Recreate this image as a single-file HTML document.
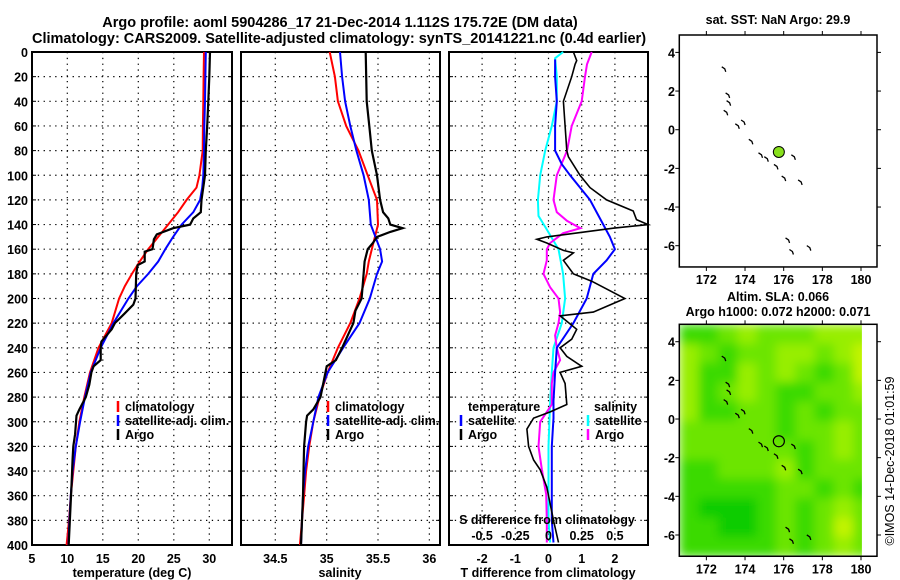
<!DOCTYPE html>
<html><head><meta charset="utf-8">
<style>
body{margin:0;background:#fff;}
svg{display:block;font-family:"Liberation Sans",Arial,sans-serif;font-weight:bold;}
text{fill:#000;}
</style></head>
<body>
<svg id="chart" width="900" height="580" viewBox="0 0 900 580" xmlns="http://www.w3.org/2000/svg">
<defs>
<filter id="smooth" x="0" y="0" width="1" height="1"><feGaussianBlur stdDeviation="5" edgeMode="duplicate"/></filter>
<clipPath id="slaclip"><rect x="679.3" y="324.3" width="182.6" height="232"/></clipPath>
</defs>
<rect width="900" height="580" fill="#fff"/>
<text x="340" y="27" font-size="14.5" text-anchor="middle">Argo profile: aoml 5904286_17 21-Dec-2014 1.112S 175.72E (DM data)</text>
<text x="339" y="43" font-size="14.5" text-anchor="middle">Climatology: CARS2009. Satellite-adjusted climatology: synTS_20141221.nc (0.4d earlier)</text>
<g id="g"></g>
</svg>
<script>
// ---- data ----
const tDepth   = [0,20,40,60,80,100,110,120,130,140,150,160,170,180,190,200,220,240,260,280,300,320,340,360,380,400];
const tClim    = [29.25,29.2,29.15,29.1,29.07,28.6,28.2,26.8,25.6,24.2,22.8,21.4,20.2,19.1,18.1,17.3,16.25,14.4,13.2,12.4,11.7,11.2,10.85,10.5,10.24,9.9];
const tSat     = [29.5,29.45,29.4,29.3,29.25,29.15,29.0,28.7,27.75,26.1,24.9,23.8,22.8,21.4,19.8,18.6,16.5,14.7,13.3,12.5,11.8,11.2,10.75,10.5,10.3,10.15];
const tArgoDepth = [0,20,40,60,80,100,120,130,135,140,143,148,152,160,162,170,173,180,200,205,212,220,225,235,240,250,255,260,270,280,290,295,310,320,330,350,400];
const tArgo      = [30.1,30.0,29.86,29.7,29.5,29.4,28.9,28.8,27.75,27.3,24.9,22.6,22.2,22.0,20.9,20.9,19.9,19.7,19.6,19.3,18.1,16.7,16.25,14.8,14.7,14.7,13.7,13.4,13.1,12.6,11.7,11.3,11.1,10.85,10.75,10.6,10.2];

const sDepth = [0,20,40,60,80,100,120,140,160,170,180,200,220,240,260,280,300,320,340,360,380,400];
const sClim  = [35.03,35.08,35.11,35.19,35.31,35.40,35.49,35.50,35.44,35.41,35.39,35.32,35.23,35.11,35.01,34.93,34.87,34.83,34.80,34.78,34.76,34.74];
const sSat   = [35.13,35.15,35.18,35.23,35.29,35.36,35.41,35.43,35.52,35.54,35.49,35.42,35.32,35.16,35.01,34.92,34.87,34.82,34.79,34.77,34.76,34.75];
const sArgoDepth = [0,40,60,80,100,120,130,135,140,143,146,150,155,160,170,180,200,210,220,240,250,255,280,290,295,300,320,340,360,400];
const sArgo      = [35.38,35.39,35.415,35.44,35.49,35.52,35.55,35.6,35.62,35.74,35.62,35.49,35.45,35.4,35.37,35.36,35.34,35.28,35.26,35.15,35.09,35.0,34.94,34.87,34.81,34.80,34.78,34.775,34.77,34.75];

const dSatTDepth = [6,20,40,60,80,91,100,120,140,150,160,169,180,200,220,230,240,260,283,297,320,339,380,398];
const dSatT      = [0.2,0.2,0.25,0.2,0.2,0.4,0.65,1.25,1.65,1.85,2.0,1.75,1.35,1.15,0.75,0.5,0.25,0.2,0.15,0.15,0.1,0.1,0.1,0.15];
const dArgoTDepth = [0,7,10,20,40,60,80,85,100,110,120,129,136,140,143,150,152,155,161,163,169,180,186,200,211,214,225,233,240,247,255,260,269,286,292,297,306,320,331,339,353,380,398];
const dArgoT      = [0.75,0.85,0.8,0.7,0.45,0.5,0.55,0.6,0.95,1.25,1.75,2.55,2.65,3.0,1.95,-0.05,-0.35,-0.05,0.45,0.75,0.45,0.75,1.3,2.3,1.35,0.35,0.85,0.7,0.35,0.55,1.0,0.35,0.5,0.55,0.05,-0.45,-0.65,-0.6,-0.45,-0.25,-0.05,0.15,0.3];
const dSatSDepth = [0,5,20,40,60,80,100,120,133,144,160,180,200,220,240,260,283,320,380,398];
const dSatS      = [0.11,0.05,0.0625,0.0625,0.025,-0.025,-0.0625,-0.08,-0.075,-0.0125,0.075,0.11,0.125,0.1,0.0375,0.025,0.0125,0.0,0.0,0.0125];
const dArgoSDepth = [0,10,20,40,60,80,100,120,130,137,143,147,155,160,169,180,191,200,211,220,230,240,250,260,269,286,292,300,320,339,359,380,398];
const dArgoS      = [0.325,0.29,0.275,0.25,0.175,0.14,0.0625,0.0375,0.0625,0.14,0.24,0.11,0.0125,-0.0125,-0.0125,-0.0375,0.0125,0.075,0.0875,0.075,0.05,0.0625,0.0875,0.0375,0.025,0.025,-0.0125,-0.0625,-0.075,-0.05,-0.0175,-0.0125,-0.0125];

const depthTicks = [0,20,40,60,80,100,120,140,160,180,200,220,240,260,280,300,320,340,360,380,400];
const tTicks = [5,10,15,20,25,30];
const sTicks = [34.5,35,35.5,36];
const dTTicks = [-2,-1,0,1,2];
const dSTickLabels = ["-0.5","-0.25","0","0.25","0.5"];
const dSTicks = [-0.5,-0.25,0,0.25,0.5];

const latTicks = [4,2,0,-2,-4,-6];
const lonTicks = [172,174,176,178,180];
const argoLon = 175.75, argoLat = -1.15;
// SLA field, 1-degree cells from 4.9N (rows) and 170.6E (cols); level 0 (dark green) .. 4 (yellow-green)
const slaRow0  = [1,1,2,3,2,2,2,3,3,3];
const slaRow1  = [3,2,1,2,2,3,3,2,3,4];
const slaRow2  = [3,1,1,3,2,3,2,1,2,4];
const slaRow3  = [3,1,2,3,2,1,1,2,2,3];
const slaRow4  = [3,1,1,2,2,1,2,1,2,2];
const slaRow5  = [2,2,2,2,2,1,2,2,3,2];
const slaRow6  = [2,2,2,2,2,2,1,2,3,2];
const slaRow7  = [1,1,2,2,2,3,1,2,2,2];
const slaRow8  = [1,1,1,1,1,2,2,1,2,1];
const slaRow9  = [1,0,0,0,1,2,1,2,3,2];
const slaRow10 = [1,1,0,0,1,2,1,2,4,2];
const slaRow11 = [1,1,1,1,1,2,1,2,3,2];
const slaRows = [slaRow0,slaRow1,slaRow2,slaRow3,slaRow4,slaRow5,slaRow6,slaRow7,slaRow8,slaRow9,slaRow10,slaRow11];
const islandLon = [172.9,173.1,173.15,173.0,173.6,173.9,174.3,174.8,175.1,175.6,176.0,176.5,176.85,176.2,177.3,176.4];
const islandLat = [3.15,1.8,1.4,0.9,0.2,0.4,-0.6,-1.3,-1.5,-1.9,-2.5,-1.4,-2.7,-5.7,-6.1,-6.3];

// ---- helpers ----
const NS="http://www.w3.org/2000/svg";
const G=document.getElementById('g');
function mk(tag,attrs,parent){const e=document.createElementNS(NS,tag);for(const k in attrs)e.setAttribute(k,attrs[k]);(parent||G).appendChild(e);return e;}
const Y0=52, Y1=545;
const yD = d => Y0 + d*(Y1-Y0)/400;
const xT = v => 67.3 + (v-10)*7.1;
const xS = v => 275.3 + (v-34.5)*102.7;
const xDT = v => 548.5 + v*33.2;
const xDS = v => 548.5 + v*4*33.2;
const panels=[{x0:32,x1:232,name:'temperature-panel'},{x0:241,x1:440,name:'salinity-panel'},{x0:449,x1:648,name:'difference-panel'}];

function frame(p,vticks){
  const g=mk('g',{});
  
  
  depthTicks.forEach(d=>{ if(d>0&&d<400){
    const l=mk('line',{x1:p.x0,x2:p.x1,y1:yD(d),y2:yD(d),stroke:'#000','stroke-width':1.2,'stroke-dasharray':'1.3,4.5'},g);
    
    
    mk('line',{x1:p.x0,x2:p.x0+4,y1:yD(d),y2:yD(d),stroke:'#000'},g);
    mk('line',{x1:p.x1-4,x2:p.x1,y1:yD(d),y2:yD(d),stroke:'#000'},g);
  }});
  vticks.forEach(x=>{ if(x>p.x0+1&&x<p.x1-1){
    const l=mk('line',{x1:x,x2:x,y1:Y0,y2:Y1,stroke:'#000','stroke-width':1.2,'stroke-dasharray':'1.3,4.5'},g);
    
    
  }});
  const r=mk('rect',{x:p.x0,y:Y0,width:p.x1-p.x0,height:Y1-Y0,fill:'none',stroke:'#000','stroke-width':2},g);
  
  
  return g;
}
function line(xs,ds,fx,color,name,w){
  const pts=xs.map((v,i)=>fx(v).toFixed(1)+','+yD(ds[i]).toFixed(1)).join(' ');
  const e=mk('polyline',{points:pts,fill:'none',stroke:color,'stroke-width':w||2,'stroke-linejoin':'miter'});
  
  
}
function txt(x,y,s,size,anchor,name,parent,extra){
  const e=mk('text',Object.assign({x:x,y:y,'font-size':size,'text-anchor':anchor||'start'},extra||{}),parent);
  e.textContent=s;
  
  
  return e;
}
function legendEntry(x,y,color,label,name){
  const m=mk('line',{x1:x,x2:x,y1:y-10,y2:y+1,stroke:color,'stroke-width':2.5});
  
  
  txt(x+7,y,label,12.5,'start',name);
}

// ---- panel 1: temperature ----
frame(panels[0],tTicks.map(xT));
depthTicks.forEach(d=>txt(28,yD(d)+5,String(d),12.5,'end','depth-tick-label'));
tTicks.forEach(t=>txt(xT(t),563,String(t),12.5,'middle','temperature-tick-label'));
txt(132,577,'temperature (deg C)',12.5,'middle','temperature-axis-title');
line(tClim,tDepth,xT,'#ff0000','temperature-climatology-line');
line(tSat,tDepth,xT,'#0000ff','temperature-satellite-line');
line(tArgo,tArgoDepth,xT,'#000','temperature-argo-line',2.2);
legendEntry(118,411,'#ff0000','climatology','legend-climatology');
legendEntry(118,425,'#0000ff','satellite-adj. clim.','legend-satellite-adj');
legendEntry(118,439,'#000','Argo','legend-argo');

// ---- panel 2: salinity ----
frame(panels[1],sTicks.map(xS));
sTicks.forEach(s=>txt(xS(s),563,String(s),12.5,'middle','salinity-tick-label'));
txt(340,577,'salinity',12.5,'middle','salinity-axis-title');
line(sClim,sDepth,xS,'#ff0000','salinity-climatology-line');
line(sSat,sDepth,xS,'#0000ff','salinity-satellite-line');
line(sArgo,sArgoDepth,xS,'#000','salinity-argo-line',2.2);
legendEntry(328,411,'#ff0000','climatology','legend2-climatology');
legendEntry(328,425,'#0000ff','satellite-adj. clim.','legend2-satellite-adj');
legendEntry(328,439,'#000','Argo','legend2-argo');

// ---- panel 3: differences ----
frame(panels[2],dTTicks.map(xDT));
line(dSatS,dSatSDepth,xDS,'#00ffff','salinity-satellite-diff-line');
line(dArgoS,dArgoSDepth,xDS,'#ff00ff','salinity-argo-diff-line');
line(dSatT,dSatTDepth,xDT,'#0000ff','temperature-satellite-diff-line');
line(dArgoT,dArgoTDepth,xDT,'#000','temperature-argo-diff-line',1.6);
dTTicks.forEach(t=>txt(xDT(t),563,String(t),12.5,'middle','t-diff-tick-label'));
txt(548,577,'T difference from climatology',12.5,'middle','t-diff-axis-title');
txt(547,524,'S difference from climatology',12.5,'middle','s-diff-axis-title');
dSTicks.forEach((s,i)=>txt(xDS(s),540,dSTickLabels[i],12.5,'middle','s-diff-tick-label'));
txt(468,411,'temperature',12.5,'start','legend3-temperature-heading');
legendEntry(461,425,'#0000ff','satellite','legend3-t-satellite');
legendEntry(461,439,'#000','Argo','legend3-t-argo');
txt(594,411,'salinity',12.5,'start','legend3-salinity-heading');
legendEntry(588,425,'#00ffff','satellite','legend3-s-satellite');
legendEntry(588,439,'#ff00ff','Argo','legend3-s-argo');

// ---- maps ----
const MX0=679.3, MX1=877, LON0=170.6, PXD=19.33;
const mx = lon => MX0 + (lon-LON0)*PXD;
function mapAxes(top,name,titleLines){
  const my = lat => top + (4.9-lat)*PXD;
  const bottom = my(-7.1);
  const g=mk('g',{});
  
  
  return {g,my,bottom,finish(){
    const r=mk('rect',{x:MX0,y:top,width:MX1-MX0,height:bottom-top,fill:'none',stroke:'#000','stroke-width':1.5},g);
    
    
    latTicks.forEach(l=>{mk('line',{x1:MX0-4,x2:MX0,y1:my(l),y2:my(l),stroke:'#000'},g);mk('line',{x1:MX1,x2:MX1+4,y1:my(l),y2:my(l),stroke:'#000'},g);
      txt(675,my(l)+5,String(l),12.5,'end','map-lat-tick-label',g);});
    lonTicks.forEach(l=>{mk('line',{x1:mx(l),x2:mx(l),y1:top-4,y2:top,stroke:'#000'},g);mk('line',{x1:mx(l),x2:mx(l),y1:bottom,y2:bottom+4,stroke:'#000'},g);
      txt(mx(l),bottom+17,String(l),12.5,'middle','map-lon-tick-label',g);});
    titleLines.forEach((t,i)=>txt(778,t[1],t[0],12.5,'middle','map-title',g));
  }};
}
function islands(m,g){
  islandLon.forEach((lo,i)=>{
    const x=mx(lo), y=m.my(islandLat[i]);
    const e=mk('path',{d:`M${x-2},${y-2} L${x+1},${y} L${x+2},${y+3}`,fill:'none',stroke:'#000','stroke-width':1.3},g);
    
    
  });
}
// map 1: SST
const m1=mapAxes(35,'sst-map',[['sat. SST: NaN Argo: 29.9',24]]);
islands(m1,m1.g);
const c1=mk('circle',{cx:mx(argoLon),cy:m1.my(argoLat),r:5.5,fill:'#88e01c',stroke:'#000','stroke-width':1},m1.g);


m1.finish();
// map 2: SLA
const m2=mapAxes(324.3,'sla-map',[['Altim. SLA: 0.066',301],['Argo h1000: 0.072 h2000: 0.071',316]]);
const slaColors=['#0ccc00','#3ada00','#6ce500','#98ee00','#c2f400'];
const clipG=mk('g',{'clip-path':'url(#slaclip)'},m2.g);


const field=mk('g',{filter:'url(#smooth)'},clipG);
slaRows.forEach((row,ri)=>row.forEach((v,ci)=>{
  const lonA=LON0+ci, lonB=LON0+ci+1;
  const cell=mk('rect',{x:mx(lonA),y:m2.my(4.9-ri),width:mx(lonB)-mx(lonA)+0.5,height:PXD+0.5,fill:slaColors[v]},field);
  
  
}));
islands(m2,m2.g);
const c2=mk('circle',{cx:mx(argoLon),cy:m2.my(argoLat),r:5.5,fill:'none',stroke:'#000','stroke-width':1.2},m2.g);


m2.finish();
txt(0,0,'©IMOS 14-Dec-2018 01:01:59',12.5,'middle','imos-credit',null,{transform:'translate(894,461) rotate(-90)','font-weight':'normal'});
</script>
</body></html>
